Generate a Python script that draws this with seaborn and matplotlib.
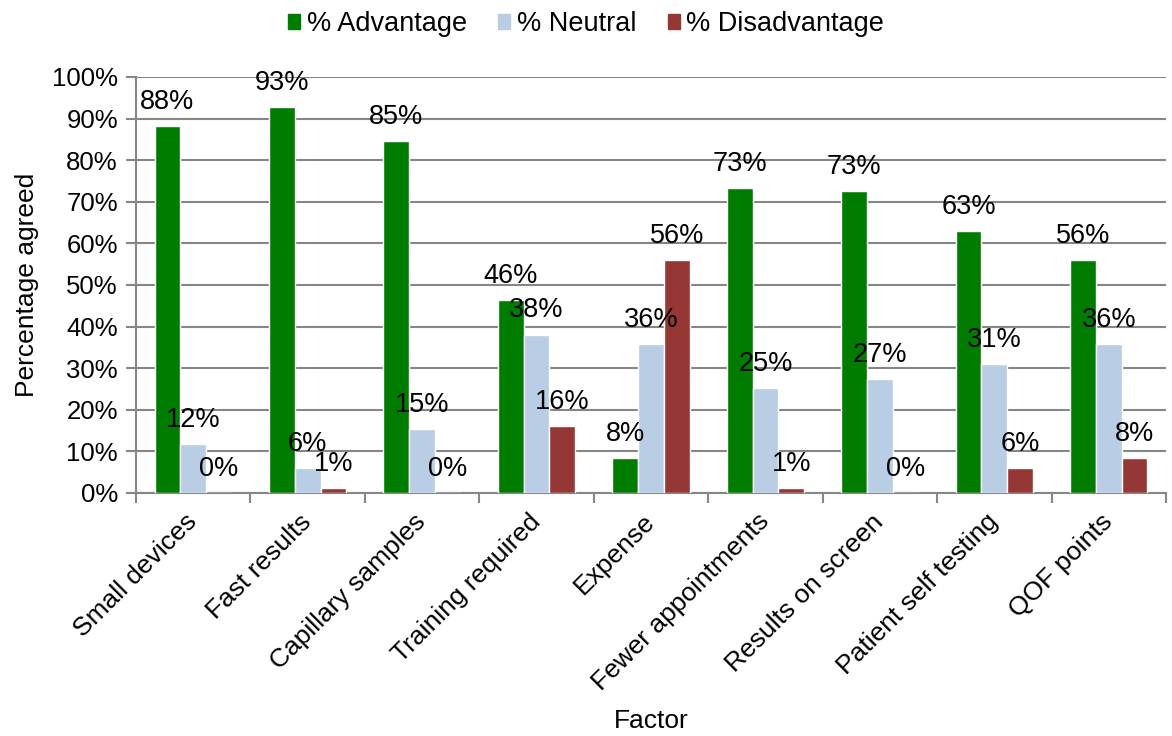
import numpy as np
import pandas as pd
import matplotlib
matplotlib.use("Agg")
import matplotlib.pyplot as plt
from matplotlib.ticker import FixedLocator, PercentFormatter
import seaborn as sns

# data
factors = ["Small devices", "Fast results", "Capillary samples", "Training required",
           "Expense", "Fewer appointments", "Results on screen",
           "Patient self testing", "QOF points"]
advantage = [88.2, 92.8, 84.6, 46.4, 8.3, 73.4, 72.6, 63.0, 56.0]
neutral = [11.8, 6.0, 15.4, 38.1, 35.7, 25.3, 27.4, 31.0, 35.7]
disadvantage = [0.0, 1.2, 0.0, 16.0, 56.0, 1.2, 0.0, 5.9, 8.3]
series = ["% Advantage", "% Neutral", "% Disadvantage"]
colors = ["#007D00", "#B9CDE5", "#953735"]

df = pd.DataFrame({"Factor": factors,
                   series[0]: advantage,
                   series[1]: neutral,
                   series[2]: disadvantage})
long = df.melt(id_vars="Factor", var_name="Series", value_name="Percent")

sns.set_style("white")
plt.rcParams["font.family"] = ["Liberation Sans", "DejaVu Sans"]
plt.rcParams["text.color"] = "black"
plt.rcParams["axes.labelcolor"] = "black"
plt.rcParams["xtick.labelcolor"] = "black"
plt.rcParams["ytick.labelcolor"] = "black"

fig = plt.figure(figsize=(11.72, 7.36), dpi=100)
ax = fig.add_axes([136/1172, 1-493/736, (1166-136)/1172, (493-77)/736])

sns.barplot(data=long, x="Factor", y="Percent", hue="Series", order=factors,
            hue_order=series, palette=colors, width=0.675, saturation=1,
            ax=ax, zorder=3, legend=False)

for cont in ax.containers:
    ax.bar_label(cont, labels=[f"{v:.0f}%" for v in cont.datavalues],
                 padding=8, fontsize=19.5)

ax.set_ylim(0, 100)
ax.set_xlim(-0.5, len(factors) - 0.5)
ax.yaxis.set_major_locator(FixedLocator(np.arange(0, 101, 10)))
ax.yaxis.set_major_formatter(PercentFormatter(decimals=0))
ax.grid(axis="y", color="#868686", linewidth=1.5, zorder=0)
ax.set_axisbelow(True)

for s in ["top", "right"]:
    ax.spines[s].set_visible(False)
for s in ["left", "bottom"]:
    ax.spines[s].set_color("#868686")
    ax.spines[s].set_linewidth(1.5)

ax.tick_params(axis="y", direction="out", length=7, width=1.5, color="#868686",
               labelsize=18.5, left=True, pad=6)
ax.tick_params(axis="x", which="major", length=0, labelsize=19, pad=18)
ax.xaxis.set_minor_locator(FixedLocator(np.arange(-0.5, len(factors), 1.0)))
ax.tick_params(axis="x", which="minor", direction="out", length=7, width=1.5,
               color="#868686", bottom=True)
plt.setp(ax.get_xticklabels(), rotation=45, ha="right", va="center",
         rotation_mode="anchor")

ax.set_ylabel("Percentage agreed", fontsize=19, labelpad=9)
ax.set_xlabel("Factor", fontsize=19)
ax.xaxis.set_label_coords(0.5, -(709 - 493) / 416)

handles = [plt.Rectangle((0, 0), 1, 1, color=c) for c in colors]
fig.legend(handles, series, loc="center", bbox_to_anchor=(0.5, 1 - 24/736),
           ncol=3, frameon=False, fontsize=19.5, handlelength=0.45,
           handleheight=0.45, handletextpad=0.25, columnspacing=1.15)

fig.savefig("out.png", dpi=100)
